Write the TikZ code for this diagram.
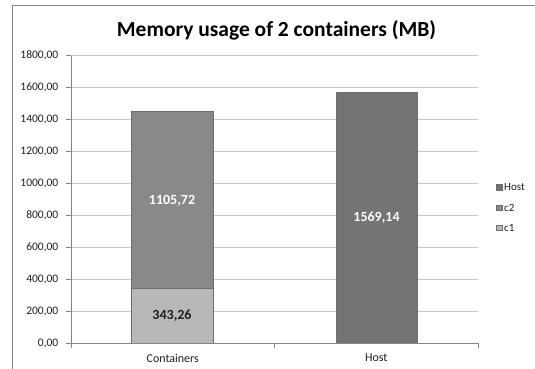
\documentclass[tikz,border=0pt]{standalone}
\usepackage{fontspec}
\setmainfont{Carlito}
\definecolor{framec}{RGB}{134,134,134}
\definecolor{gridc}{RGB}{200,200,200}
\definecolor{axisc}{RGB}{134,134,134}
\definecolor{hostc}{RGB}{116,116,116}
\definecolor{ctwoc}{RGB}{137,137,137}
\definecolor{conec}{RGB}{184,184,184}
\definecolor{edgec}{RGB}{110,110,110}
\definecolor{textc}{RGB}{30,30,30}
\begin{document}
\begin{tikzpicture}[x=1pt,y=-1pt,
  framestyle/.style={draw=framec,line width=0.8pt},
  gridline/.style={draw=gridc,line width=0.7pt},
  axisline/.style={draw=axisc,line width=0.7pt},
  barstyle/.style={draw=edgec,line width=0.8pt},
  ticklabel/.style={font=\fontsize{11.5}{13}\selectfont,text=textc,inner sep=0pt},
  catlabel/.style={font=\fontsize{12}{14}\selectfont,text=textc,inner sep=0pt},
  barlabel/.style={font=\fontsize{14}{16}\selectfont\bfseries,inner sep=0pt},
  legendbox/.style={draw=edgec,line width=0.5pt,minimum size=5.5pt,inner sep=0pt},
  legendtext/.style={font=\fontsize{11}{13}\selectfont,text=textc,inner sep=0pt,anchor=west}]
\useasboundingbox (0,0) rectangle (535,369);
\fill[white] (0,0) rectangle (535,369);
\draw[framestyle] (12,369) -- (12,5) -- (535,5);
% title
\node[font=\fontsize{21.5}{24}\selectfont\bfseries,inner sep=0pt] (title) at (276.5,30) {Memory usage of 2 containers (MB)};
% grid and y labels
\foreach \v in {200,400,600,800,1000,1200,1400,1600,1800}{
  \pgfmathsetmacro{\yy}{343.3-\v*0.15978}
  \draw[gridline] (71,\yy) -- (478,\yy);
  \draw[axisline] (66,\yy) -- (71,\yy);
  \node[ticklabel,anchor=east] (y\v) at (58.5,\yy) {\v,00};
}
\node[ticklabel,anchor=east] (zero) at (58.5,343.3) {0,00};
\draw[axisline] (66,343.3) -- (71,343.3);
% bars
\draw[barstyle,fill=conec] (131,343.3) rectangle (213,288.45);
\draw[barstyle,fill=ctwoc] (131,288.45) rectangle (213,111.78);
\draw[barstyle,fill=hostc] (336,343.3) rectangle (417,92.59);
% axes
\draw[axisline] (71,343.3) -- (71,55.6);
\draw[axisline] (71,343.3) -- (478,343.3);
\draw[axisline] (71,343.3) -- (71,348);
\draw[axisline] (274.5,343.3) -- (274.5,348);
\draw[axisline] (478,343.3) -- (478,348);
% bar labels
\node[barlabel,text=white] (lc2) at (172,200.5) {1105,72};
\node[barlabel,text=white] (lhost) at (376.5,218) {1569,14};
\node[barlabel,text=textc] (lc1) at (172,316) {343,26};
% category labels
\node[catlabel] (cat1) at (172.75,358) {Containers};
\node[catlabel] (cat2) at (376.25,358) {Host};
% legend
\node[legendbox,fill=hostc] (kh) at (499,187.3) {};
\node[legendtext] (th) at (504,187.3) {Host};
\node[legendbox,fill=ctwoc] (k2) at (499,207.7) {};
\node[legendtext] (t2) at (504,207.7) {c2};
\node[legendbox,fill=conec] (k1) at (499,227.7) {};
\node[legendtext] (t1) at (504,227.7) {c1};
\end{tikzpicture}
\end{document}
